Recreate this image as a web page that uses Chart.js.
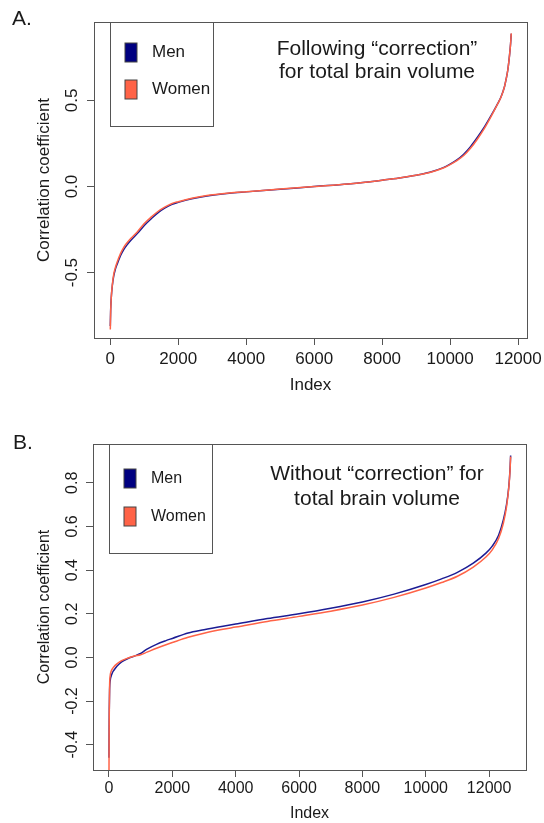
<!DOCTYPE html>
<html>
<head>
<meta charset="utf-8">
<script src="https://cdn.jsdelivr.net/npm/chart.js@4.4.1/dist/chart.umd.min.js"></script>
<style>
  body { margin: 0; background: #fff; }
  canvas { display: block; }
</style>
</head>
<body>
<canvas id="chartA" width="544" height="411"></canvas>
<canvas id="chartB" width="544" height="412"></canvas>
<script>
/* ===== DATA ===== */
// Panel A - following "correction" for total brain volume
const indexA = [0, 10, 30, 60, 100, 150, 200, 300, 400, 500,
    600, 800, 1000, 1200, 1400, 1600, 1800, 2000, 2400, 2800,
    3500, 4000, 5000, 6000, 7000, 7500, 8000, 8500, 9000, 9400,
    9800, 10000, 10200, 10400, 10600, 10800, 11000, 11200, 11400, 11500,
    11600, 11650, 11700, 11750, 11780, 11800];
const menA = [-0.81, -0.72, -0.64, -0.575, -0.52, -0.48, -0.452, -0.402, -0.365, -0.337,
    -0.313, -0.272, -0.226, -0.188, -0.153, -0.126, -0.105, -0.092, -0.071, -0.056,
    -0.039, -0.031, -0.016, 0.0, 0.015, 0.025, 0.037, 0.05, 0.066, 0.083,
    0.11, 0.13, 0.155, 0.188, 0.232, 0.285, 0.343, 0.41, 0.482, 0.522,
    0.58, 0.625, 0.68, 0.765, 0.83, 0.888];
const womenA = [-0.83, -0.73, -0.64, -0.57, -0.51, -0.47, -0.44, -0.39, -0.352, -0.325,
    -0.302, -0.262, -0.215, -0.178, -0.145, -0.12, -0.10, -0.088, -0.068, -0.054,
    -0.038, -0.030, -0.015, 0.0, 0.015, 0.025, 0.037, 0.05, 0.066, 0.082,
    0.108, 0.127, 0.15, 0.18, 0.222, 0.275, 0.335, 0.405, 0.48, 0.52,
    0.58, 0.625, 0.68, 0.765, 0.83, 0.89];
const xTicksA = [0, 2000, 4000, 6000, 8000, 10000, 12000];
const yTicksA = [-0.5, 0.0, 0.5];
const noteA = ['Following \u201Ccorrection\u201D', 'for total brain volume'];

// Panel B - without "correction" for total brain volume
const indexB = [0, 5, 10, 20, 40, 70, 100, 150, 250, 400,
    600, 800, 1000, 1200, 1500, 1800, 2000, 2500, 3000, 3600,
    4000, 5000, 6000, 7000, 8000, 9000, 10000, 10500, 11000, 11500,
    11900, 12100, 12300, 12450, 12550, 12620, 12660, 12680];
const menB = [-0.46, -0.33, -0.24, -0.15, -0.105, -0.085, -0.073, -0.06, -0.04, -0.02,
    -0.005, 0.006, 0.018, 0.038, 0.06, 0.077, 0.087, 0.112, 0.127, 0.143,
    0.153, 0.178, 0.2, 0.225, 0.254, 0.29, 0.334, 0.36, 0.39, 0.432,
    0.478, 0.51, 0.56, 0.63, 0.70, 0.78, 0.86, 0.925];
const womenB = [-0.56, -0.37, -0.25, -0.13, -0.082, -0.063, -0.054, -0.044, -0.03, -0.015,
    -0.003, 0.006, 0.012, 0.024, 0.042, 0.058, 0.068, 0.092, 0.111, 0.129,
    0.139, 0.165, 0.188, 0.212, 0.24, 0.275, 0.318, 0.343, 0.372, 0.414,
    0.46, 0.493, 0.545, 0.615, 0.69, 0.775, 0.855, 0.92];
const xTicksB = [0, 2000, 4000, 6000, 8000, 10000, 12000];
const yTicksB = [-0.4, -0.2, 0.0, 0.2, 0.4, 0.6, 0.8];
const noteB = ['Without \u201Ccorrection\u201D for', 'total brain volume'];

/* ===== STYLE ===== */
const FONT = "'Liberation Sans', Arial, Helvetica, sans-serif";
const AXIS_COLOR = '#555';
const TEXT_COLOR = '#1a1a1a';

/* ===== R-like box, legend, note and panel tag ===== */
const boxPlot = {
    id: 'boxPlot',
    afterDraw(chart, args, o) {
        const { ctx, chartArea: a } = chart;
        ctx.save();
        ctx.strokeStyle = AXIS_COLOR;
        ctx.lineWidth = 1;
        ctx.strokeRect(Math.round(a.left) + 0.5, Math.round(a.top) + 0.5,
            Math.round(a.right - a.left), Math.round(a.bottom - a.top));

        // legend
        const lg = o.legend;
        const lx = Math.round(a.left + lg.dx) + 0.5;
        const ly = Math.round(a.top) + 0.5;
        ctx.fillStyle = '#fff';
        ctx.fillRect(lx, ly, lg.w, lg.h);
        ctx.strokeRect(lx, ly, lg.w, lg.h);
        ctx.font = `${lg.size}px ${FONT}`;
        ctx.textBaseline = 'middle';
        ctx.textAlign = 'left';
        chart.data.datasets.forEach((ds, i) => {
            const cy = ly + lg.rows[i];
            ctx.fillStyle = ds.legendFill;
            ctx.fillRect(lx + lg.sqX, cy - lg.sqH / 2, lg.sqW, lg.sqH);
            ctx.strokeStyle = '#444';
            ctx.strokeRect(lx + lg.sqX, cy - lg.sqH / 2, lg.sqW, lg.sqH);
            ctx.fillStyle = TEXT_COLOR;
            ctx.fillText(ds.label, lx + lg.textX, cy);
        });

        // note text
        const n = o.note;
        ctx.font = `${n.size}px ${FONT}`;
        ctx.textAlign = 'center';
        ctx.fillStyle = TEXT_COLOR;
        n.lines.forEach((t, i) => ctx.fillText(t, a.left + n.cx, a.top + n.y[i]));

        // panel tag
        ctx.font = `${o.tag.size}px ${FONT}`;
        ctx.textAlign = 'left';
        ctx.textBaseline = 'alphabetic';
        ctx.fillText(o.tag.text, o.tag.x, o.tag.y);
        ctx.restore();
    }
};

// keep tick labels from pushing the plot area around
function noLabelPadding(s) {
    s.paddingLeft = 0;
    s.paddingRight = 0;
    s.paddingTop = 0;
    s.paddingBottom = 0;
}

function buildChart(id, p) {
    const pts = ys => p.index.map((x, i) => ({ x, y: ys[i] }));
    const font = { family: FONT, size: p.fontSize };
    return new Chart(document.getElementById(id), {
        type: 'line',
        data: {
            datasets: [
                { label: 'Men', data: pts(p.men), borderColor: '#1c1c94', legendFill: '#000080', order: 1 },
                { label: 'Women', data: pts(p.women), borderColor: '#ff6347', legendFill: '#ff6347', order: 0 }
            ]
        },
        options: {
            responsive: false,
            animation: false,
            events: [],
            layout: { padding: { left: 0, top: p.padTop, right: p.padRight, bottom: 0 } },
            elements: {
                point: { radius: 0 },
                line: { borderWidth: 1.5, cubicInterpolationMode: 'monotone', fill: false }
            },
            plugins: {
                legend: { display: false },
                tooltip: { enabled: false },
                boxPlot: p.deco
            },
            scales: {
                x: {
                    type: 'linear',
                    min: p.xRange[0],
                    max: p.xRange[1],
                    afterFit: s => { s.height = p.xAxisH; noLabelPadding(s); },
                    afterBuildTicks: s => { s.ticks = p.xTicks.map(v => ({ value: v })); },
                    border: { display: false },
                    grid: { drawOnChartArea: false, drawTicks: true, tickLength: 7, color: AXIS_COLOR },
                    ticks: { font, color: TEXT_COLOR, padding: p.xTickPad, maxRotation: 0, callback: v => String(v) },
                    title: { display: true, text: 'Index', font, color: TEXT_COLOR, padding: { top: 0, bottom: p.xTitlePad } }
                },
                y: {
                    min: p.yRange[0],
                    max: p.yRange[1],
                    afterFit: s => { s.width = p.yAxisW; noLabelPadding(s); },
                    afterBuildTicks: s => { s.ticks = p.yTicks.map(v => ({ value: v })); },
                    border: { display: false },
                    grid: { drawOnChartArea: false, drawTicks: true, tickLength: 7, color: AXIS_COLOR },
                    ticks: { font, color: TEXT_COLOR, padding: 0, minRotation: 90, maxRotation: 90, crossAlign: 'center', callback: v => v.toFixed(1) },
                    title: { display: true, text: 'Correlation coefficient', font, color: TEXT_COLOR, padding: { top: p.yTitlePad, bottom: 0 } }
                }
            }
        },
        plugins: [boxPlot]
    });
}

buildChart('chartA', {
    index: indexA, men: menA, women: womenA,
    xTicks: xTicksA, yTicks: yTicksA,
    xRange: [-480, 12263], yRange: [-0.880, 0.956],
    fontSize: 17, padTop: 22, padRight: 17, yAxisW: 94, xAxisH: 73,
    xTickPad: 4, xTitlePad: 15, yTitlePad: 34,
    deco: {
        tag: { text: 'A.', x: 12, y: 25, size: 21 },
        note: { lines: noteA, cx: 283, y: [27, 50], size: 21 },
        legend: { dx: 16, w: 103, h: 104, sqX: 14.5, sqW: 12, sqH: 19, rows: [30, 67], textX: 41.5, size: 17 }
    }
});

buildChart('chartB', {
    index: indexB, men: menB, women: womenB,
    xTicks: xTicksB, yTicks: yTicksB,
    xRange: [-504, 13165], yRange: [-0.516, 0.978],
    fontSize: 16, padTop: 33, padRight: 18, yAxisW: 93, xAxisH: 53,
    xTickPad: 2, xTitlePad: 0, yTitlePad: 35,
    deco: {
        tag: { text: 'B.', x: 13, y: 38, size: 21 },
        note: { lines: noteB, cx: 284, y: [30, 55], size: 21 },
        legend: { dx: 16, w: 103, h: 109, sqX: 14.5, sqW: 12, sqH: 19, rows: [34, 72], textX: 41.5, size: 16 }
    }
});
</script>
</body>
</html>
